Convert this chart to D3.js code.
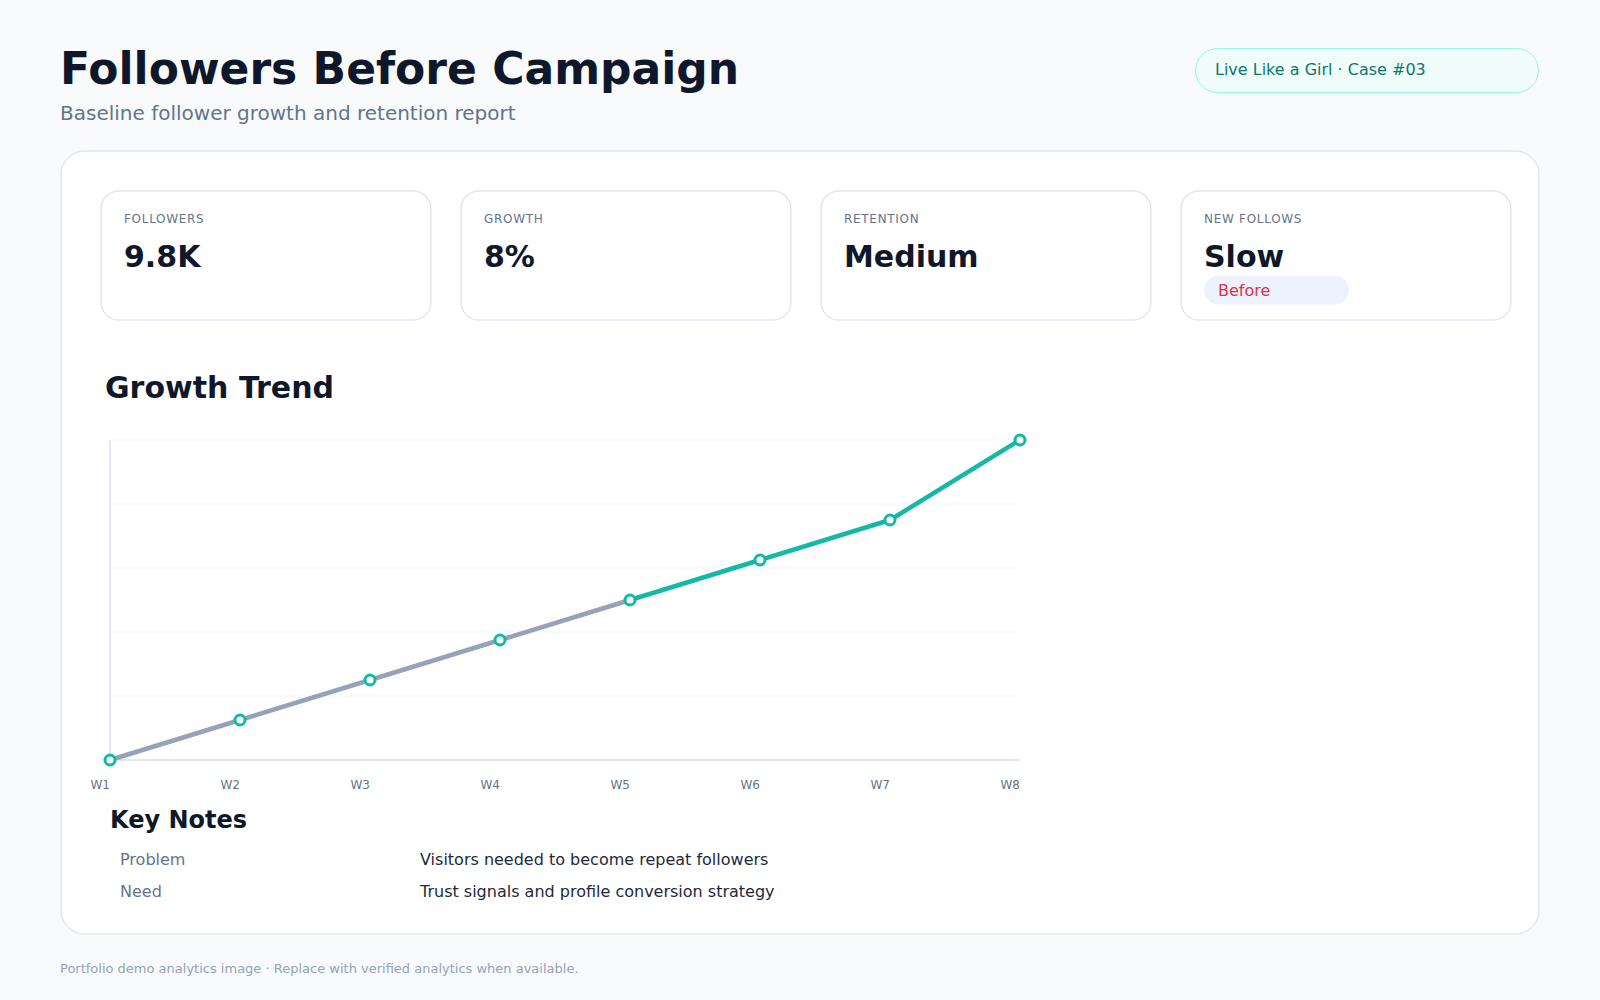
<!DOCTYPE html>
<html>
<head>
<meta charset="utf-8">
<script src="https://cdn.jsdelivr.net/npm/d3@7"></script>
<style>
  body { margin: 0; background: #f8fafc; }
  svg { display: block; font-family: "DejaVu Sans", sans-serif; }
</style>
</head>
<body>
<div id="chart"></div>
<script>
// chart values
const weeks = ["W1", "W2", "W3", "W4", "W5", "W6", "W7", "W8"];
const followers = [8.2, 8.4, 8.6, 8.8, 9.0, 9.2, 9.4, 9.8];
const splitIndex = 4; // grey up to W5, teal after

const kpiLabels = ["FOLLOWERS", "GROWTH", "RETENTION", "NEW FOLLOWS"];
const kpiValues = ["9.8K", "8%", "Medium", "Slow"];

const noteLabels = ["Problem", "Need"];
const noteTexts = ["Visitors needed to become repeat followers", "Trust signals and profile conversion strategy"];

(function() {
    const W = 1600, H = 1000;
    const svg = d3.select("#chart").append("svg")
        .attr("width", W)
        .attr("height", H);

    svg.append("rect").attr("width", W).attr("height", H).attr("fill", "#f8fafc");

    // header
    svg.append("text")
        .attr("x", 60).attr("y", 84)
        .attr("font-size", 44).attr("font-weight", "bold")
        .attr("fill", "#0f172a")
        .text("Followers Before Campaign");

    svg.append("text")
        .attr("x", 60).attr("y", 119.5)
        .attr("font-size", 20)
        .attr("fill", "#64748b")
        .text("Baseline follower growth and retention report");

    svg.append("rect")
        .attr("x", 1195.5).attr("y", 48.5)
        .attr("width", 343).attr("height", 44)
        .attr("rx", 22)
        .attr("fill", "#f0fdfa").attr("stroke", "#99f6e4");

    svg.append("text")
        .attr("x", 1215).attr("y", 75)
        .attr("font-size", 16)
        .attr("fill", "#0f766e")
        .text("Live Like a Girl · Case #03");

    // main panel
    svg.append("rect")
        .attr("x", 61).attr("y", 151)
        .attr("width", 1478).attr("height", 783)
        .attr("rx", 24)
        .attr("fill", "#ffffff").attr("stroke", "#e2e8f0").attr("stroke-width", 1.5);

    // KPI cards
    const cardW = 330, cardGap = 30, cardX0 = 101, cardY = 191, cardH = 129;
    const cards = svg.selectAll(".card")
        .data(kpiLabels)
        .enter()
        .append("g")
        .attr("class", "card")
        .attr("transform", (d, i) => `translate(${cardX0 + i * (cardW + cardGap)},${cardY})`);

    cards.append("rect")
        .attr("width", cardW).attr("height", cardH)
        .attr("rx", 18)
        .attr("fill", "#ffffff").attr("stroke", "#e2e8f0").attr("stroke-width", 1.5);

    cards.append("text")
        .attr("x", 23).attr("y", 32)
        .attr("font-size", 12)
        .attr("letter-spacing", 0.7)
        .attr("fill", "#64748b")
        .text(d => d);

    cards.append("text")
        .attr("x", 23).attr("y", 76)
        .attr("font-size", 30).attr("font-weight", "bold")
        .attr("fill", "#0f172a")
        .text((d, i) => kpiValues[i]);

    const lastCard = cards.filter((d, i) => i === 3);
    lastCard.append("rect")
        .attr("x", 23).attr("y", 84.5)
        .attr("width", 145).attr("height", 29)
        .attr("rx", 14.5)
        .attr("fill", "#eef2ff");
    lastCard.append("text")
        .attr("x", 37).attr("y", 104.5)
        .attr("font-size", 16)
        .attr("fill", "#dc3545")
        .text("Before");

    // growth trend
    svg.append("text")
        .attr("x", 105).attr("y", 398)
        .attr("font-size", 30).attr("font-weight", "bold")
        .attr("fill", "#0f172a")
        .text("Growth Trend");

    const plot = {left: 110, right: 1020, top: 440, bottom: 760};

    const x = d3.scalePoint()
        .domain(weeks)
        .range([plot.left, plot.right]);

    const y = d3.scaleLinear()
        .domain(d3.extent(followers))
        .range([plot.bottom, plot.top]);

    const grid = d3.scaleLinear().domain([0, 5]).range([plot.bottom, plot.top]);

    svg.append("g")
        .selectAll("line")
        .data(d3.range(1, 6))
        .enter()
        .append("line")
        .attr("x1", plot.left).attr("x2", plot.right)
        .attr("y1", d => grid(d)).attr("y2", d => grid(d))
        .attr("stroke", "#f1f5f9").attr("stroke-width", 1);

    svg.append("line")
        .attr("x1", plot.left).attr("x2", plot.left)
        .attr("y1", plot.top).attr("y2", plot.bottom)
        .attr("stroke", "#e2e8f0").attr("stroke-width", 2);

    svg.append("line")
        .attr("x1", plot.left).attr("x2", plot.right)
        .attr("y1", plot.bottom).attr("y2", plot.bottom)
        .attr("stroke", "#e2e8f0").attr("stroke-width", 2);

    svg.append("g")
        .selectAll("text")
        .data(weeks)
        .enter()
        .append("text")
        .attr("x", d => x(d))
        .attr("y", 789)
        .attr("text-anchor", "end")
        .attr("font-size", 12)
        .attr("fill", "#64748b")
        .text(d => d);

    const points = weeks.map((w, i) => ({week: w, value: followers[i]}));

    const line = d3.line()
        .x(d => x(d.week))
        .y(d => y(d.value));

    svg.append("path")
        .datum(points.slice(0, splitIndex + 1))
        .attr("d", line)
        .attr("fill", "none")
        .attr("stroke", "#94a3b8")
        .attr("stroke-width", 4.5)
        .attr("stroke-linejoin", "round");

    svg.append("path")
        .datum(points.slice(splitIndex))
        .attr("d", line)
        .attr("fill", "none")
        .attr("stroke", "#14b8a6")
        .attr("stroke-width", 4.5)
        .attr("stroke-linejoin", "round");

    svg.append("g")
        .selectAll("circle")
        .data(points)
        .enter()
        .append("circle")
        .attr("cx", d => x(d.week))
        .attr("cy", d => y(d.value))
        .attr("r", 5)
        .attr("fill", "#ffffff")
        .attr("stroke", "#14b8a6")
        .attr("stroke-width", 3);

    // key notes
    svg.append("text")
        .attr("x", 110).attr("y", 828)
        .attr("font-size", 24).attr("font-weight", "bold")
        .attr("fill", "#0f172a")
        .text("Key Notes");

    const notes = svg.append("g");
    noteLabels.forEach((label, i) => {
        notes.append("text")
            .attr("x", 120).attr("y", 865 + i * 32)
            .attr("font-size", 16)
            .attr("fill", "#64748b")
            .text(label);
        notes.append("text")
            .attr("x", 420).attr("y", 865 + i * 32)
            .attr("font-size", 16)
            .attr("fill", "#1e293b")
            .text(noteTexts[i]);
    });

    svg.append("text")
        .attr("x", 60).attr("y", 973)
        .attr("font-size", 13)
        .attr("fill", "#94a3b8")
        .text("Portfolio demo analytics image · Replace with verified analytics when available.");
})();
</script>
</body>
</html>
